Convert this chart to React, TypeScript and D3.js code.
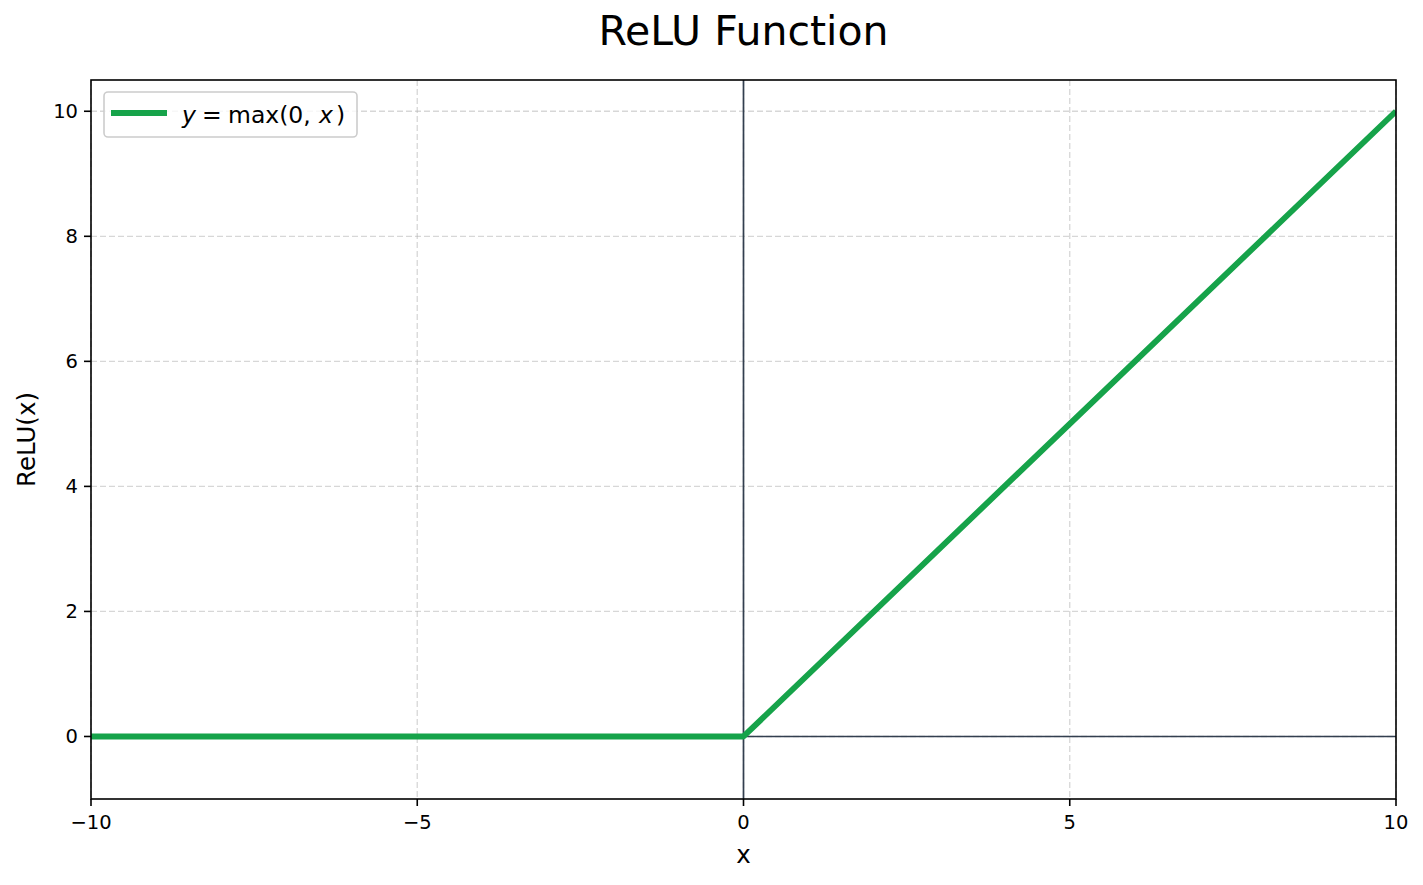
import React from "react";
import * as d3 from "d3";

const lineX = [-10, 0, 10];
const lineY = [0, 0, 10];
const xTicks = [-10, -5, 0, 5, 10];
const yTicks = [0, 2, 4, 6, 8, 10];
const title = "ReLU Function";
const xLabel = "x";
const yLabel = "ReLU(x)";

const W = 1423, H = 885;
const M = { left: 91, right: 1396, top: 80, bottom: 799 };
const GREEN = "#16a34a";
const ZERO = "#333f4f";
const FONT = "DejaVu Sans, sans-serif";

export default function App() {
  const x = d3.scaleLinear().domain([-10, 10]).range([M.left, M.right]);
  const y = d3.scaleLinear().domain([-1, 10.5]).range([M.bottom, M.top]);
  const pts = lineX.map((v, i) => [v, lineY[i]] as [number, number]);
  const path = d3.line<[number, number]>().x(d => x(d[0])).y(d => y(d[1]))(pts) || "";
  const fmt = (v: number) => (v < 0 ? "\u2212" + Math.abs(v) : String(v));
  return (
    <svg width={W} height={H} style={{ position: "absolute", left: 0, top: 0, background: "#fff" }}>
      <defs>
        <clipPath id="clip">
          <rect x={M.left} y={M.top} width={M.right - M.left} height={M.bottom - M.top} />
        </clipPath>
      </defs>
      <rect x={0} y={0} width={W} height={H} fill="#fff" />
      {xTicks.map(t => (
        <line key={"gx" + t} x1={x(t)} x2={x(t)} y1={M.top} y2={M.bottom} stroke="#b0b0b0" strokeOpacity={0.5} strokeWidth={1.3} strokeDasharray="6,3" />
      ))}
      {yTicks.map(t => (
        <line key={"gy" + t} x1={M.left} x2={M.right} y1={y(t)} y2={y(t)} stroke="#b0b0b0" strokeOpacity={0.5} strokeWidth={1.3} strokeDasharray="6,3" />
      ))}
      <line x1={M.left} x2={M.right} y1={y(0)} y2={y(0)} stroke={ZERO} strokeWidth={1.7} />
      <line x1={x(0)} x2={x(0)} y1={M.top} y2={M.bottom} stroke={ZERO} strokeWidth={1.7} />
      <path d={path} fill="none" stroke={GREEN} strokeWidth={5.9} clipPath="url(#clip)" strokeLinecap="butt" strokeLinejoin="round" />
      <rect x={M.left} y={M.top} width={M.right - M.left} height={M.bottom - M.top} fill="none" stroke="#000" strokeWidth={1.6} />
      {xTicks.map(t => (
        <g key={"tx" + t}>
          <line x1={x(t)} x2={x(t)} y1={M.bottom} y2={M.bottom + 7} stroke="#000" strokeWidth={1.6} />
          <text x={x(t)} y={829} textAnchor="middle" fontFamily={FONT} fontSize={19.5} fill="#000">{fmt(t)}</text>
        </g>
      ))}
      {yTicks.map(t => (
        <g key={"ty" + t}>
          <line x1={M.left - 7} x2={M.left} y1={y(t)} y2={y(t)} stroke="#000" strokeWidth={1.6} />
          <text x={M.left - 13} y={y(t)} dy="0.36em" textAnchor="end" fontFamily={FONT} fontSize={19.5} fill="#000">{fmt(t)}</text>
        </g>
      ))}
      <text x={(M.left + M.right) / 2} y={863} textAnchor="middle" fontFamily={FONT} fontSize={24.5} fill="#000">{xLabel}</text>
      <text transform={`translate(35,${(M.top + M.bottom) / 2}) rotate(-90)`} textAnchor="middle" fontFamily={FONT} fontSize={24.5} fill="#000">{yLabel}</text>
      <text x={(M.left + M.right) / 2} y={45} textAnchor="middle" fontFamily={FONT} fontSize={41} fill="#000">{title}</text>
      <g>
        <rect x={104} y={92} width={253} height={45} rx={4} fill="#fff" fillOpacity={0.8} stroke="#cccccc" strokeWidth={1.6} />
        <line x1={111} x2={167} y1={113} y2={113} stroke={GREEN} strokeWidth={5.9} />
        <text y={122.5} fontFamily={FONT} fontSize={23.5} fill="#000">
          <tspan x={182} fontStyle="italic">y</tspan>
          <tspan x={202}>=</tspan>
          <tspan x={228}>max(0,</tspan>
          <tspan x={319} fontStyle="italic">x</tspan>
          <tspan x={336}>)</tspan>
        </text>
      </g>
    </svg>
  );
}
